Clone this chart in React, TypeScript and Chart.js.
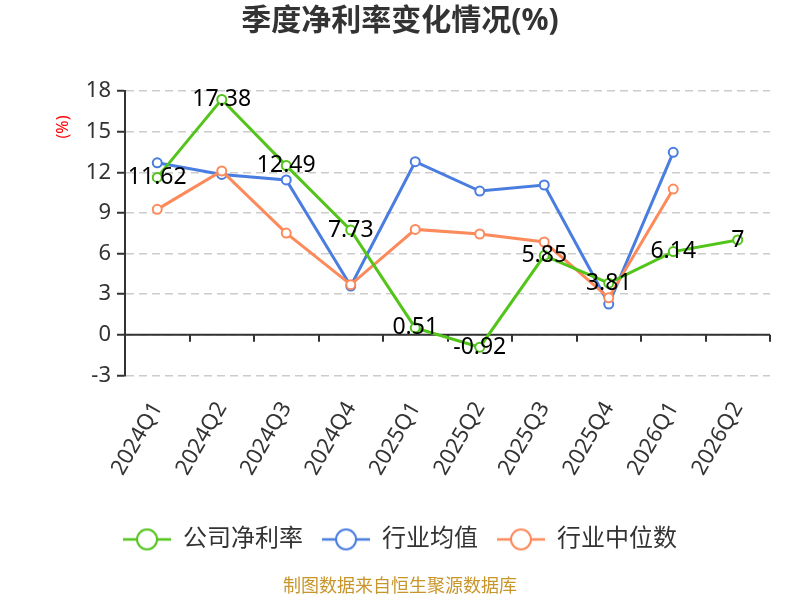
import { useEffect, useRef } from 'react';
import { Chart, registerables } from 'chart.js';

Chart.register(...registerables);

// values
const quarters = ['2024Q1', '2024Q2', '2024Q3', '2024Q4', '2025Q1', '2025Q2', '2025Q3', '2025Q4', '2026Q1', '2026Q2'];
const companyMargin = [11.62, 17.38, 12.49, 7.73, 0.51, -0.92, 5.85, 3.81, 6.14, 7];
const industryAvg = [12.7, 11.84, 11.43, 3.6, 12.78, 10.61, 11.06, 2.27, 13.47, null];
const industryMedian = [9.26, 12.1, 7.51, 3.7, 7.78, 7.44, 6.85, 2.73, 10.76, null];
const seriesNames = ['公司净利率', '行业均值', '行业中位数'];
const seriesColors = ['#52c41a', '#4a7de0', '#fd8a5b'];
const yMin = -3;
const yMax = 18;
const yStep = 3;

const FONT = '"Noto Sans", "Noto Sans CJK SC", sans-serif';

function legendIcon(color: string) {
  const c = document.createElement('canvas');
  c.width = 48;
  c.height = 24;
  const ctx = c.getContext('2d')!;
  ctx.strokeStyle = color;
  ctx.lineWidth = 2.5;
  ctx.beginPath();
  ctx.moveTo(0, 12);
  ctx.lineTo(48, 12);
  ctx.stroke();
  ctx.beginPath();
  ctx.arc(24, 12, 10, 0, Math.PI * 2);
  ctx.fillStyle = '#fff';
  ctx.fill();
  ctx.lineWidth = 2;
  ctx.stroke();
  return c;
}

// solid zero line with tick marks, the red unit label and value labels
const decorations = {
  id: 'decorations',
  beforeDatasetsDraw(chart: any) {
    const { ctx, chartArea, scales } = chart;
    const y0 = scales.y.getPixelForValue(0);
    const n = quarters.length;
    const step = (chartArea.right - chartArea.left) / n;
    ctx.save();
    ctx.strokeStyle = '#333';
    ctx.lineWidth = 2;
    ctx.beginPath();
    ctx.moveTo(chartArea.left, y0);
    ctx.lineTo(chartArea.right, y0);
    for (let i = 1; i <= n; i++) {
      const x = Math.round(chartArea.left + i * step);
      ctx.moveTo(x, y0);
      ctx.lineTo(x, y0 + 7);
    }
    ctx.stroke();
    ctx.restore();
  },
  afterDatasetsDraw(chart: any) {
    const { ctx, chartArea } = chart;
    ctx.save();
    ctx.translate(63, chartArea.top + 36);
    ctx.rotate(-Math.PI / 2);
    ctx.fillStyle = '#ff0000';
    ctx.font = `16px ${FONT}`;
    ctx.textAlign = 'center';
    ctx.textBaseline = 'middle';
    ctx.fillText('(%)', 0, 0);
    ctx.restore();

    const meta = chart.getDatasetMeta(0);
    ctx.save();
    ctx.fillStyle = '#000';
    ctx.font = `23px ${FONT}`;
    ctx.textAlign = 'center';
    ctx.textBaseline = 'middle';
    meta.data.forEach((pt: any, i: number) => {
      ctx.fillText(String(companyMargin[i]), pt.x, pt.y);
    });
    ctx.restore();
  }
};

export default function App() {
  const canvasRef = useRef<HTMLCanvasElement>(null);
  const chartRef = useRef<Chart | null>(null);

  useEffect(() => {
    document.body.style.margin = '0';
    if (!canvasRef.current) {
      return;
    }
    if (chartRef.current) {
      chartRef.current.destroy();
    }
    const ctx = canvasRef.current.getContext('2d');
    if (!ctx) {
      return;
    }

    const allData = [companyMargin, industryAvg, industryMedian];
    const drawOrder = [0, 2, 1];

    chartRef.current = new Chart(ctx, {
      type: 'line',
      data: {
        labels: quarters,
        datasets: allData.map((d, i) => ({
          label: seriesNames[i],
          data: d,
          order: drawOrder[i],
          borderColor: seriesColors[i],
          backgroundColor: seriesColors[i],
          borderWidth: 3,
          pointRadius: 4.5,
          pointBorderWidth: 2,
          pointBackgroundColor: '#fff',
          pointBorderColor: seriesColors[i],
          tension: 0,
          spanGaps: false
        }))
      },
      plugins: [decorations],
      options: {
        animation: false,
        responsive: true,
        maintainAspectRatio: false,
        layout: { padding: { left: 30, right: 30, top: 0, bottom: 0 } },
        scales: {
          x: {
            offset: true,
            grid: { display: false, drawTicks: false },
            border: { display: false },
            ticks: {
              minRotation: 60,
              maxRotation: 60,
              padding: 22,
              color: '#333',
              font: { family: FONT, size: 22 }
            },
            afterFit(scale: any) {
              scale.height = 133;
            }
          },
          y: {
            min: yMin,
            max: yMax,
            grid: {
              color: '#cccccc',
              lineWidth: 1.5,
              tickColor: '#333',
              tickWidth: 2,
              tickLength: 8,
              tickBorderDash: [],
              drawTicks: true
            },
            border: { display: true, color: '#333', width: 2, dash: [8, 5] },
            ticks: {
              stepSize: yStep,
              padding: 6,
              color: '#333',
              font: { family: FONT, size: 22 }
            },
            afterFit(scale: any) {
              scale.width = 95;
            }
          }
        },
        plugins: {
          title: {
            display: true,
            text: '季度净利率变化情况(%)',
            color: '#333',
            font: { family: FONT, size: 30, weight: 'bold' },
            padding: { top: 3, bottom: 52 }
          },
          subtitle: {
            display: true,
            position: 'bottom',
            text: '制图数据来自恒生聚源数据库',
            color: '#c8952a',
            font: { family: FONT, size: 18 },
            padding: { top: 15, bottom: 2 }
          },
          legend: {
            position: 'bottom',
            labels: {
              usePointStyle: true,
              pointStyleWidth: 48,
              boxHeight: 24,
              padding: 19,
              color: '#333',
              font: { family: FONT, size: 24 },
              sort: (a: any, b: any) => a.datasetIndex - b.datasetIndex,
              generateLabels(chart: any) {
                return chart.data.datasets.map((ds: any, i: number) => ({
                  text: ds.label,
                  datasetIndex: i,
                  pointStyle: legendIcon(seriesColors[i]),
                  fillStyle: '#fff',
                  strokeStyle: seriesColors[i],
                  lineWidth: 0,
                  fontColor: '#333',
                  hidden: !chart.isDatasetVisible(i)
                }));
              }
            }
          },
          tooltip: { enabled: false }
        }
      }
    });

    return () => {
      if (chartRef.current) {
        chartRef.current.destroy();
        chartRef.current = null;
      }
    };
  }, []);

  return (
    <div style={{ width: 800, height: 600 }}>
      <canvas ref={canvasRef} />
    </div>
  );
}
